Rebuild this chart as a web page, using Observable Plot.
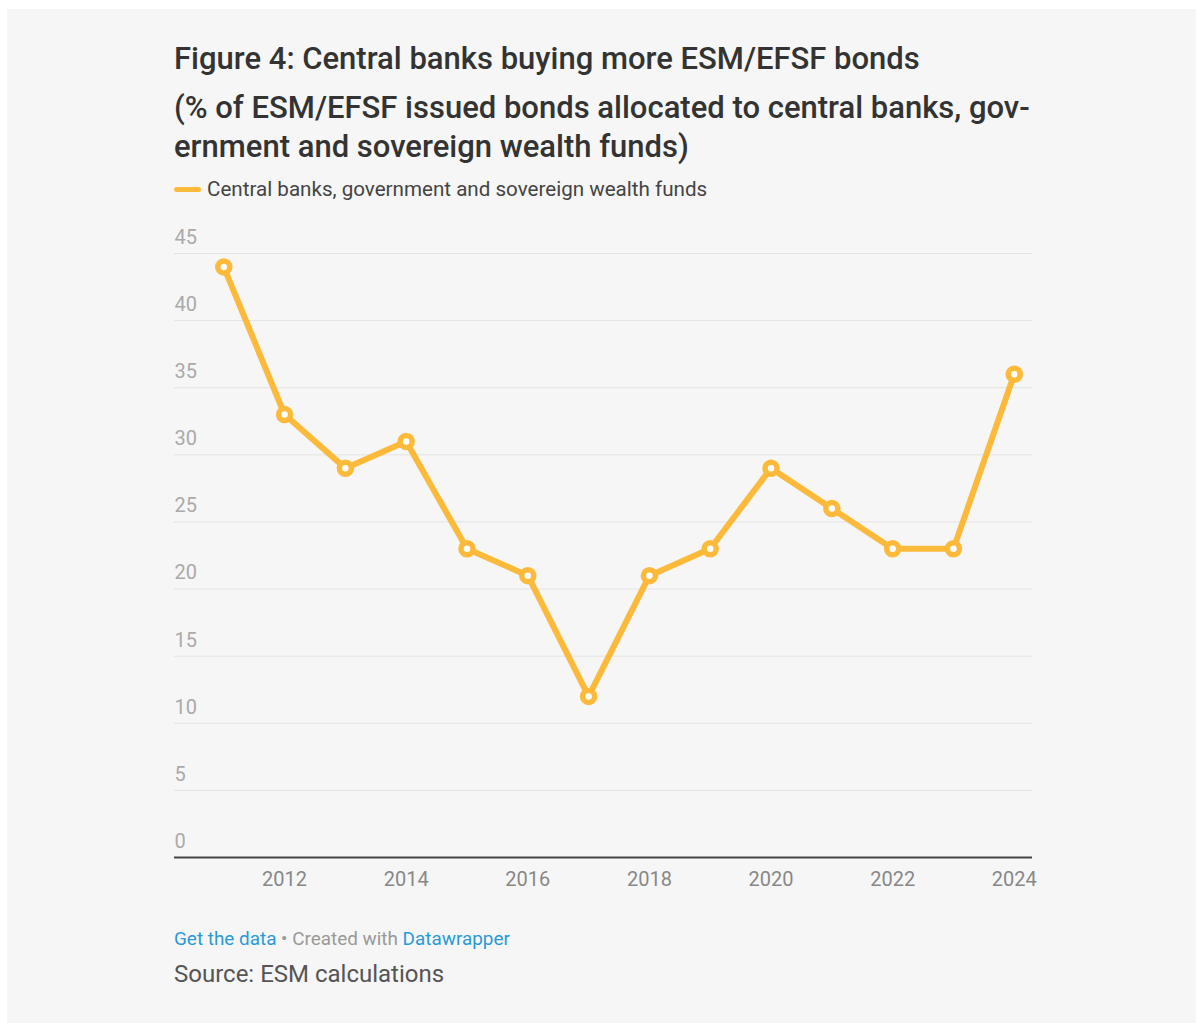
<!DOCTYPE html>
<html>
<head>
<meta charset="utf-8">
<script src="https://cdn.jsdelivr.net/npm/d3@7"></script>
<script src="https://cdn.jsdelivr.net/npm/@observablehq/plot@0.6"></script>
<style>
  html, body { margin: 0; padding: 0; background: #ffffff; }
  body { width: 1203px; height: 1026px; position: relative; overflow: hidden; font-family: Roboto, "Noto Sans", sans-serif; }
  #panel { position: absolute; left: 7px; top: 9px; width: 1189px; height: 1014px; background: #f6f6f6; }
  .abs { position: absolute; white-space: nowrap; }
  #title { left: 167px; top: 32px; font-size: 31px; font-weight: 500; color: #333333; line-height: 36px; }
  #subtitle { left: 167px; top: 80px; font-size: 31px; font-weight: 500; color: #333333; line-height: 38.5px; }
  #legend { left: 167px; top: 168px; font-size: 20.6px; color: #444444; display: flex; align-items: center; }
  #legend .sw { display: inline-block; width: 27px; height: 5px; border-radius: 3px; background: #fdb93a; margin-right: 6px; }
  #chart { left: 143px; top: 211px; }
  #notes { left: 167px; top: 918px; font-size: 18.9px; color: #999999; }
  #notes .lnk { color: #2a9ad6; }
  #source { left: 167px; top: 951px; font-size: 24px; color: #555555; }
</style>
</head>
<body>
<div id="panel">
  <div id="title" class="abs">Figure 4: Central banks buying more ESM/EFSF bonds</div>
  <div id="subtitle" class="abs">(% of ESM/EFSF issued bonds allocated to central banks, gov-<br>ernment and sovereign wealth funds)</div>
  <div id="legend" class="abs"><span class="sw"></span><span id="legendText"></span></div>
  <div id="chart" class="abs"></div>
  <div id="notes" class="abs"><span class="lnk">Get the data</span> • Created with <span class="lnk">Datawrapper</span></div>
  <div id="source" class="abs">Source: ESM calculations</div>
</div>
<script>
const seriesName = "Central banks, government and sovereign wealth funds";
const years = [2011, 2012, 2013, 2014, 2015, 2016, 2017, 2018, 2019, 2020, 2021, 2022, 2023, 2024];
const values = [44, 33, 29, 31, 23, 21, 12, 21, 23, 29, 26, 23, 23, 36];
const xTicks = [2012, 2014, 2016, 2018, 2020, 2022, 2024];
const yTicks = [0, 5, 10, 15, 20, 25, 30, 35, 40, 45];

document.getElementById("legendText").textContent = seriesName;

const data = years.map((y, i) => ({year: y, value: values[i]}));
const color = "#fdb93a";

const plot = Plot.plot({
  width: 910,
  height: 680,
  marginLeft: 24,
  marginRight: 28,
  marginTop: 33,
  marginBottom: 43,
  style: {background: "transparent", fontFamily: "Roboto, 'Noto Sans', sans-serif", overflow: "visible"},
  x: {domain: [2010.19, 2024.3]},
  y: {domain: [0, 45], axis: null},
  marks: [
    Plot.ruleY(yTicks.filter(d => d > 0), {y: d => d, stroke: "#e3e3e3", strokeWidth: 1}),
    Plot.text(yTicks, {y: d => d, text: d => String(d), frameAnchor: "left", textAnchor: "start", dy: -16, fill: "#aaaaaa", fontSize: 20}),
    Plot.ruleY([0], {stroke: "#444444", strokeWidth: 2}),
    Plot.axisX({ticks: xTicks, tickSize: 0, tickPadding: 14, tickFormat: d => String(d), fontSize: 20, fill: "#888888", label: null}),
    Plot.line(data, {x: "year", y: "value", stroke: color, strokeWidth: 6, strokeLinejoin: "round", strokeLinecap: "round"}),
    Plot.dot(data, {x: "year", y: "value", r: 6, fill: "#ffffff", stroke: color, strokeWidth: 5.5})
  ]
});
document.getElementById("chart").appendChild(plot);
</script>
</body>
</html>
